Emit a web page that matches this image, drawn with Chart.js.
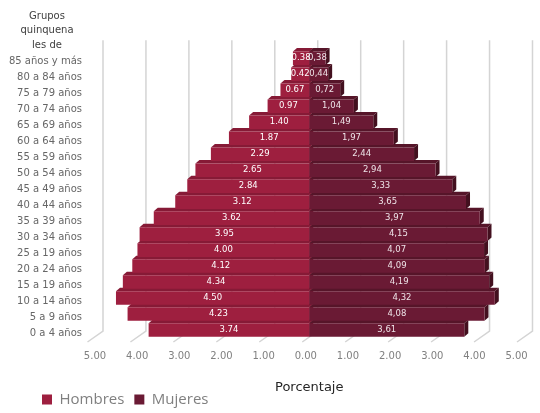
<!DOCTYPE html>
<html>
<head>
<meta charset="utf-8">
<script src="https://cdn.jsdelivr.net/npm/chart.js@4"></script>
<style>
  html, body { margin: 0; padding: 0; background: #fff; }
</style>
</head>
<body>
<canvas id="piramide" width="540" height="413"></canvas>
<script>
'use strict';

const grupos = ['85 años y más', '80 a 84 años', '75 a 79 años', '70 a 74 años', '65 a 69 años',
  '60 a 64 años', '55 a 59 años', '50 a 54 años', '45 a 49 años', '40 a 44 años', '35 a 39 años',
  '30 a 34 años', '25 a 19 años', '20 a 24 años', '15 a 19 años', '10 a 14 años', '5 a 9 años', '0 a 4 años'];
const hombres = [0.38, 0.42, 0.67, 0.97, 1.40, 1.87, 2.29, 2.65, 2.84, 3.12, 3.62, 3.95, 4.00, 4.12, 4.34, 4.50, 4.23, 3.74];
const mujeres = [0.38, 0.44, 0.72, 1.04, 1.49, 1.97, 2.44, 2.94, 3.33, 3.65, 3.97, 4.15, 4.07, 4.09, 4.19, 4.32, 4.08, 3.61];
const ejeTicks = [-5, -4, -3, -2, -1, 0, 1, 2, 3, 4, 5];

const colHombres = '#9E1F3F';
const colMujeres = '#6A1A34';
// caras 3D (arriba / lado derecho)
const caras = [
  { top: '#861A36', side: '#6E142B' },
  { top: '#561529', side: '#43101F' },
];
const DX = 4, DY = 3.5;
const fuente = 'DejaVu Sans';

const piramide3d = {
  id: 'piramide3d',
  afterLayout(chart) {
    // la leyenda arranca un poco mas a la derecha
    chart.legend.left += 32;
    chart.legend.right += 32;
  },
  beforeDatasetsDraw(chart) {
    const { ctx, chartArea } = chart;
    const x = chart.scales.x;
    ctx.save();

    // pared del fondo + piso
    ctx.strokeStyle = '#d4d4d4';
    ctx.lineWidth = 1.5;
    ejeTicks.forEach(v => {
      const px = x.getPixelForValue(v);
      ctx.beginPath();
      ctx.moveTo(px + 8.5, chartArea.top - 10);
      ctx.lineTo(px + 8.5, chartArea.bottom - 7);
      ctx.lineTo(px - 7, chartArea.bottom + 4);
      ctx.stroke();
    });

    // caras superiores y laterales, de abajo hacia arriba
    const metas = [chart.getDatasetMeta(0), chart.getDatasetMeta(1)];
    for (let i = grupos.length - 1; i >= 0; i--) {
      metas.forEach((meta, d) => {
        const el = meta.data[i];
        const left = Math.min(el.x, el.base), right = Math.max(el.x, el.base);
        const top = el.y - el.height / 2, bottom = el.y + el.height / 2;
        ctx.fillStyle = caras[d].top;
        ctx.beginPath();
        ctx.moveTo(left, top);
        ctx.lineTo(left + DX, top - DY);
        ctx.lineTo(right + DX, top - DY);
        ctx.lineTo(right, top);
        ctx.closePath();
        ctx.fill();
        ctx.fillStyle = caras[d].side;
        ctx.beginPath();
        ctx.moveTo(right, top);
        ctx.lineTo(right + DX, top - DY);
        ctx.lineTo(right + DX, bottom - DY);
        ctx.lineTo(right, bottom);
        ctx.closePath();
        ctx.fill();
      });
    }
    ctx.restore();
  },
  afterDatasetsDraw(chart) {
    const { ctx } = chart;
    ctx.save();
    ctx.textAlign = 'center';
    ctx.textBaseline = 'middle';
    ctx.font = '8.5px "' + fuente + '"';
    chart.getDatasetMeta(0).data.forEach((el, i) => {
      ctx.fillStyle = '#ffffff';
      ctx.fillText(hombres[i].toFixed(2), (el.x + el.base) / 2, el.y);
    });
    chart.getDatasetMeta(1).data.forEach((el, i) => {
      ctx.fillStyle = '#eee4e8';
      ctx.fillText(mujeres[i].toFixed(2).replace('.', ','), (el.x + el.base) / 2, el.y);
    });

    // titulo del eje de grupos
    ctx.fillStyle = '#404040';
    ctx.font = '10px "' + fuente + '"';
    ['Grupos', 'quinquena', 'les de'].forEach((t, k) => ctx.fillText(t, 47, 16 + k * 14.5));
    ctx.restore();
  },
};

new Chart(document.getElementById('piramide'), {
  type: 'bar',
  data: {
    labels: grupos,
    datasets: [
      { label: 'Hombres', data: hombres.map(v => -v), backgroundColor: colHombres, borderWidth: 0,
        barPercentage: 0.85, categoryPercentage: 1 },
      { label: 'Mujeres', data: mujeres, backgroundColor: colMujeres, borderWidth: 0,
        barPercentage: 0.85, categoryPercentage: 1 },
    ],
  },
  options: {
    indexAxis: 'y',
    responsive: false,
    animation: false,
    layout: { padding: { left: 0, right: 10.5, top: 50.3, bottom: -4 } },
    plugins: {
      legend: {
        position: 'bottom',
        align: 'start',
        labels: {
          boxWidth: 10,
          boxHeight: 10,
          padding: 10,
          color: '#808080',
          font: { family: 'Open Sans', size: 15 },
        },
      },
      tooltip: { enabled: false },
    },
    scales: {
      x: { stacked: true, min: -5, max: 5, display: false },
      xt: {
        type: 'linear',
        position: 'bottom',
        min: -5.0117,
        max: 5.1756,
        afterBuildTicks: (s) => { s.ticks = ejeTicks.map(v => ({ value: v })); },
        afterFit: (s) => { s.height = 44; },
        grid: { display: false, drawTicks: false },
        border: { display: false },
        ticks: {
          callback: (v) => Math.abs(v).toFixed(2),
          color: '#808080',
          font: { family: fuente, size: 10 },
          padding: 12,
          maxRotation: 0,
          autoSkip: false,
        },
        title: {
          display: true,
          text: 'Porcentaje',
          color: '#262626',
          font: { family: fuente, size: 13 },
          padding: { top: 16, bottom: -13 },
        },
      },
      y: {
        stacked: true,
        afterFit: (s) => { s.width = 94.5; },
        grid: { display: false, drawTicks: false },
        border: { display: false },
        ticks: {
          color: '#666666',
          font: { family: fuente, size: 10 },
          padding: 12.5,
          labelOffset: 3.5,
        },
      },
    },
  },
  plugins: [piramide3d],
});
</script>
</body>
</html>
